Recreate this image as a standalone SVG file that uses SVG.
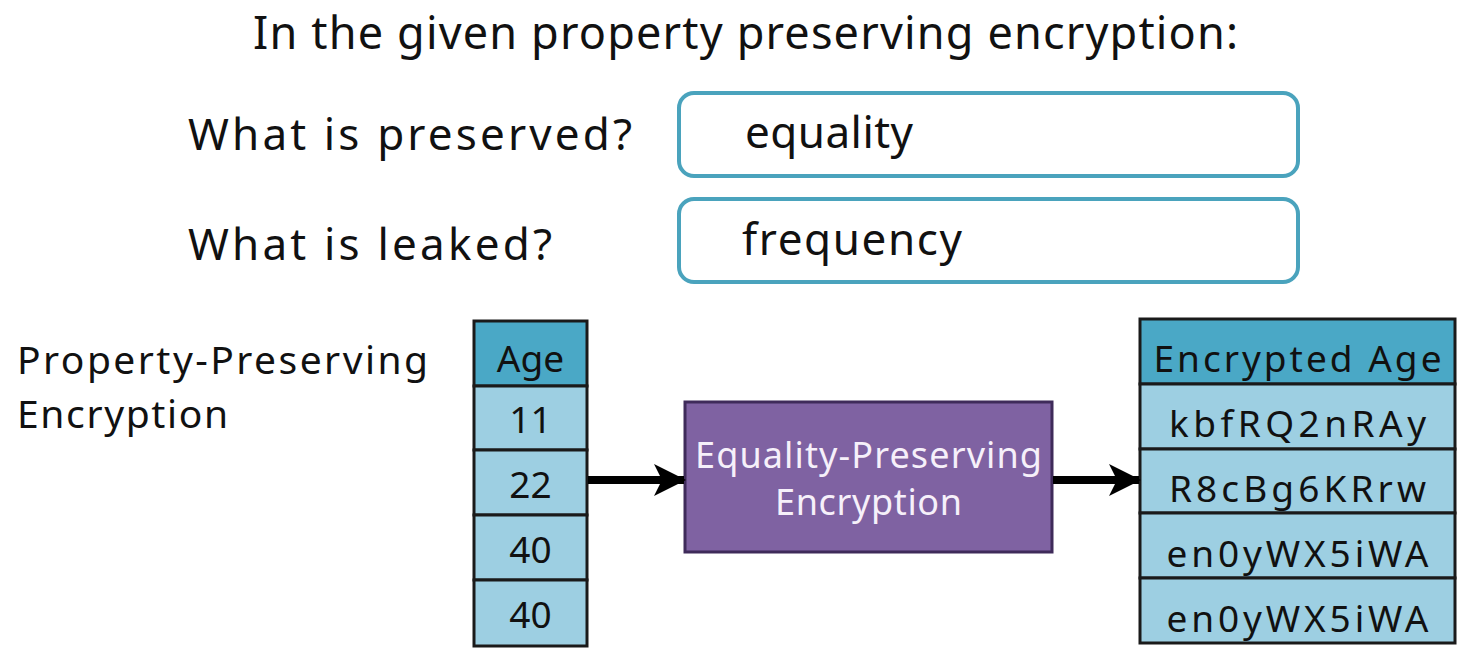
<svg xmlns="http://www.w3.org/2000/svg" width="1479" height="658" viewBox="0 0 1479 658">
<style>
text{font-family:"Noto Sans","DejaVu Sans",sans-serif;fill:#111}
.q{font-size:44px}
.ans{fill:#fff;stroke:#4aa3bd;stroke-width:4}
.hdr{fill:#4aa8c6;stroke:#1a1a1a;stroke-width:3}
.row{fill:#9dcfe2;stroke:#1a1a1a;stroke-width:3}
.cell{font-size:37px;text-anchor:middle}
.pur{fill:#7f62a2;stroke:#3f2b5a;stroke-width:3}
.pt{font-size:36px;text-anchor:middle;fill:#f6f0fa}
.conn{stroke:#000;stroke-width:8;fill:none}
</style>
<defs>
<marker id="ah" viewBox="0 0 32 32" refX="30" refY="16" markerWidth="32" markerHeight="32" markerUnits="userSpaceOnUse" orient="auto">
<path d="M0,0 L32,16 L0,32 L8,16 Z" fill="#000"/>
</marker>
</defs>
<rect width="1479" height="658" fill="#fff"/>
<g id="title"><text x="253" y="49" font-size="45" textLength="985">In the given property preserving encryption:</text></g>
<g id="q1"><text class="q" x="188" y="150" textLength="444">What is preserved?</text></g>
<g id="q2"><text class="q" x="188" y="260" textLength="364">What is leaked?</text></g>
<g id="a1"><rect class="ans" x="679" y="93" width="619" height="83" rx="15"/><text class="q" x="745" y="148" textLength="168">equality</text></g>
<g id="a2"><rect class="ans" x="679" y="199" width="619" height="83" rx="15"/><text class="q" x="742" y="255" textLength="220">frequency</text></g>
<g id="label"><text x="17" y="374" font-size="39" textLength="411">Property-Preserving</text><text x="17" y="428" font-size="39" textLength="211">Encryption</text></g>
<g id="age-table">
<rect class="hdr" x="474" y="321" width="113" height="65"/>
<rect class="row" x="474" y="386" width="113" height="64"/>
<rect class="row" x="474" y="450" width="113" height="65"/>
<rect class="row" x="474" y="515" width="113" height="65"/>
<rect class="row" x="474" y="580" width="113" height="66"/>
<text class="cell" x="530.5" y="372">Age</text>
<text class="cell" x="530.5" y="433">11</text>
<text class="cell" x="530.5" y="498">22</text>
<text class="cell" x="530.5" y="563">40</text>
<text class="cell" x="530.5" y="628">40</text>
</g>
<g id="epe"><rect class="pur" x="685" y="402" width="367" height="150"/>
<text class="pt" x="868.5" y="468" textLength="347">Equality-Preserving</text>
<text class="pt" x="868.5" y="515" textLength="187">Encryption</text></g>
<g id="enc-table">
<rect class="hdr" x="1140" y="319" width="315" height="65"/>
<rect class="row" x="1140" y="384" width="315" height="65"/>
<rect class="row" x="1140" y="449" width="315" height="64"/>
<rect class="row" x="1140" y="513" width="315" height="65"/>
<rect class="row" x="1140" y="578" width="315" height="65"/>
<text class="cell" x="1297.5" y="372" textLength="288">Encrypted Age</text>
<text class="cell" x="1297.5" y="437" textLength="257">kbfRQ2nRAy</text>
<text class="cell" x="1297.5" y="502" textLength="257">R8cBg6KRrw</text>
<text class="cell" x="1297.5" y="567" textLength="262">en0yWX5iWA</text>
<text class="cell" x="1297.5" y="632" textLength="262">en0yWX5iWA</text>
</g>
<g id="connectors">
<line class="conn" x1="588" y1="480" x2="684" y2="480" marker-end="url(#ah)"/>
<line class="conn" x1="1053" y1="480" x2="1139" y2="480" marker-end="url(#ah)"/>
</g>
</svg>
